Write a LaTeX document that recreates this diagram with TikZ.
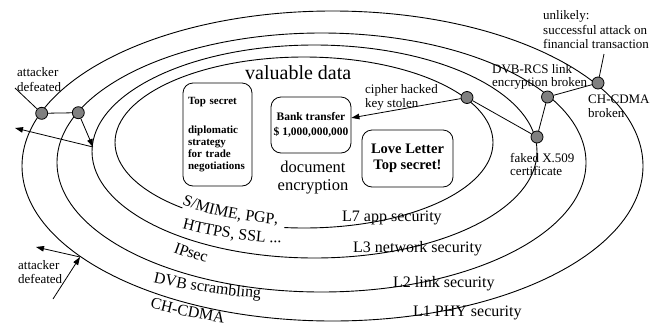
\documentclass[tikz,border=0pt]{standalone}
\usepackage{fontspec}
\setmainfont{Liberation Serif}
\usetikzlibrary{arrows.meta,decorations.text}

\newcommand\fsz[2]{\fontsize{#1}{#2}\selectfont}

\begin{document}
\begin{tikzpicture}[x=1pt,y=-1pt,
  ring/.style={line width=0.9pt},
  hit/.style={circle,draw,line width=0.8pt,fill=black!50,minimum size=12pt,inner sep=0pt},
  link/.style={line width=0.8pt},
  arr/.style={line width=0.8pt,-{Triangle[length=8pt,width=5.5pt]}},
  lbl/.style={inner sep=0pt,align=left,anchor=north west,font=\fsz{13}{14.3}},
  layer/.style={inner sep=0pt,anchor=base west,font=\fsz{16}{19}},
  doc/.style={draw,line width=0.8pt,rounded corners=10pt},
  curved/.style={decorate,decoration={text along path,text={#1}}}
]
\useasboundingbox (0,0) rectangle (658,327);

% security rings, outermost first
\draw[ring] (332.5,166) ellipse[x radius=310.5, y radius=155];
\draw[ring] (321.5,162.5) ellipse[x radius=264.5, y radius=129.5];
\draw[ring] (314.5,151.5) ellipse[x radius=222.5, y radius=106.5];
\draw[ring] (304,142.5) ellipse[x radius=189, y radius=85.5];

% gap in the innermost ring under its protocol label
\draw[white,line width=3pt] (304,142.5) ++(130:189 and 85.5)
  arc[start angle=130,end angle=96,x radius=189,y radius=85.5];

% labels that follow the rings
\path[curved={|\fsz{16}{19}|S/MIME, PGP,}] (304,142.5) ++(131:186 and 82.5)
  arc[start angle=131,end angle=70,x radius=186,y radius=82.5];
\path[curved={|\fsz{16}{19}|HTTPS, SSL ...}] (314.5,151.5) ++(123.5:240 and 92.5)
  arc[start angle=123.5,end angle=70,x radius=240,y radius=92.5];
\path[curved={|\fsz{16}{19}|IPsec}] (314.5,151.5) ++(126:240.5 and 124.5)
  arc[start angle=126,end angle=95,x radius=240.5,y radius=124.5];
\path[curved={|\fsz{16}{19}|DVB scrambling}] (321.5,162.5) ++(119.7:340 and 138)
  arc[start angle=119.7,end angle=80,x radius=340,y radius=138];
\path[curved={|\fsz{16}{19}|CH-CDMA}] (332.5,166) ++(120.5:360 and 164.6)
  arc[start angle=120.5,end angle=95,x radius=360,y radius=164.6];

% layer names
\node[layer] (l7) at (342,221) {L7 app security};
\node[layer] (l3) at (353,252) {L3 network security};
\node[layer] (l2) at (393,287) {L2 link security};
\node[layer] (l1) at (413,316) {L1 PHY security};

% the data in the middle
\node[inner sep=0pt,anchor=base west,font=\fsz{20}{24}] (valdata) at (245,79) {valuable data};
\node[inner sep=0pt,anchor=north,align=center,font=\fsz{16.5}{18}] (docenc) at (313,161) {document\\encryption};
\node[doc,minimum width=69pt,minimum height=103pt,text width=59pt,align=left,
      font=\bfseries\fsz{11}{12}] (topsec) at (217.5,134.5)
  {Top secret\\[17pt]diplomatic\\strategy\\for trade\\negotiations};
\node[doc,minimum width=80pt,minimum height=56pt,inner sep=2pt,align=center,
      font=\bfseries\fsz{11.5}{15}] (bank) at (311,125)
  {Bank transfer\\\$ 1,000,000,000};
\node[doc,minimum width=91pt,minimum height=57pt,align=center,
      font=\bfseries\fsz{14.5}{16.5}] (love) at (407.5,158.5)
  {Love Letter\\Top secret!};

% attack annotations
\node[lbl,font=\fsz{13}{15}] (atk1) at (17,67) {attacker\\defeated};
\node[lbl,font=\fsz{13}{14}] (atk2) at (18,260) {attacker\\defeated};
\node[lbl] (ciph) at (365,84) {cipher hacked\\key stolen};
\node[lbl,font=\fsz{13}{13.5}] (dvbrcs) at (492,64) {DVB-RCS link\\encryption broken};
\node[lbl,font=\fsz{13}{14}] (chbrk) at (588,94.5) {CH-CDMA\\broken};
\node[lbl] (unlik) at (543,10.5) {unlikely:\\successful attack on\\financial transaction};
\node[lbl,font=\fsz{13}{13}] (fake) at (510,153) {faked X.509\\certificate};

% break-in points on the rings
\node[hit] (a1) at (41.7,113.3) {};
\node[hit] (a2) at (78.3,112.7) {};
\node[hit] (c1) at (467,97.5) {};
\node[hit] (fx) at (537,137) {};
\node[hit] (dv) at (547.5,97) {};
\node[hit] (ch) at (598,83) {};

\coordinate (a1end) at (15,88);
\coordinate (p1) at (93,147);
\coordinate (p2) at (15,128);
\coordinate (q0) at (53,299);
\coordinate (q1) at (80,257);
\coordinate (q2) at (36,247);
\coordinate (unlend) at (604,54);

\draw[link] (a1) -- (a1end);
\draw[link] (a1) -- (a2);
\draw[arr] (a2) -- (p1);
\draw[arr] (p1) -- (p2);
\draw[arr] (q0) -- (q1);
\draw[arr] (q1) -- (q2);
\draw[arr] (c1) -- (bank);
\draw[link] (c1) -- (fx);
\draw[link] (fx) -- (dv);
\draw[link] (dv) -- (ch);
\draw[link] (ch) -- (unlend);
\end{tikzpicture}
\end{document}
